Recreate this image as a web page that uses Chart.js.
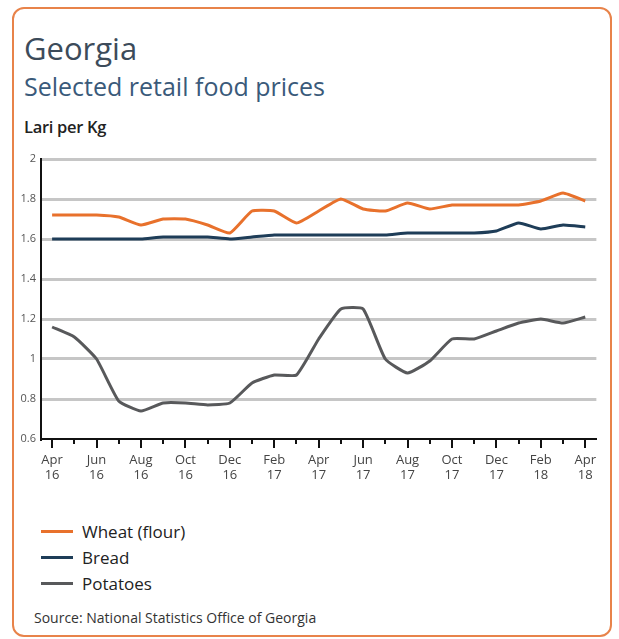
<!DOCTYPE html>
<html>
<head>
  <meta charset="UTF-8">
  <title>Georgia - Selected retail food prices</title>
  <script src="https://cdn.jsdelivr.net/npm/chart.js"></script>
  <style>
    body {
      margin: 0;
      background: #fff;
      font-family: "Open Sans", sans-serif;
    }
    #card {
      position: absolute;
      left: 12px;
      top: 7px;
      width: 596px;
      height: 626px;
      border: 2px solid #e8834a;
      border-radius: 12px;
    }
    #title {
      position: absolute;
      left: 24px;
      top: 27px;
      font-size: 31px;
      color: #3c4b5a;
    }
    #subtitle {
      position: absolute;
      left: 24px;
      top: 69px;
      font-size: 25px;
      color: #3a5a7a;
    }
    #unit {
      position: absolute;
      left: 24px;
      top: 115px;
      font-size: 16.5px;
      font-weight: 600;
      letter-spacing: -0.3px;
      color: #222;
    }
    #chartBox {
      position: absolute;
      left: 14px;
      top: 145px;
    }
    #legend {
      position: absolute;
      left: 41px;
      top: 518px;
      font-size: 17px;
      color: #222;
    }
    .item {
      height: 26px;
      display: flex;
      align-items: center;
    }
    .swatch {
      width: 32px;
      height: 3px;
      margin-right: 9px;
    }
    #source {
      position: absolute;
      left: 34px;
      top: 608px;
      font-size: 14px;
      color: #333;
    }
  </style>
</head>
<body>
  <div id="card"></div>
  <div id="title">Georgia</div>
  <div id="subtitle">Selected retail food prices</div>
  <div id="unit">Lari per Kg</div>
  <div id="chartBox">
    <canvas id="foodChart" width="595" height="355"></canvas>
  </div>
  <div id="legend"></div>
  <div id="source">Source: National Statistics Office of Georgia</div>

  <script>
    const months = [
      'Apr 16', 'May 16', 'Jun 16', 'Jul 16', 'Aug 16', 'Sep 16', 'Oct 16', 'Nov 16', 'Dec 16',
      'Jan 17', 'Feb 17', 'Mar 17', 'Apr 17', 'May 17', 'Jun 17', 'Jul 17', 'Aug 17', 'Sep 17',
      'Oct 17', 'Nov 17', 'Dec 17', 'Jan 18', 'Feb 18', 'Mar 18', 'Apr 18'
    ];
    const wheat = [
      1.72, 1.72, 1.72, 1.71, 1.67, 1.70, 1.70, 1.67, 1.63,
      1.74, 1.74, 1.68, 1.74, 1.80, 1.75, 1.74, 1.78, 1.75,
      1.77, 1.77, 1.77, 1.77, 1.79, 1.83, 1.79
    ];
    const bread = [
      1.60, 1.60, 1.60, 1.60, 1.60, 1.61, 1.61, 1.61, 1.60,
      1.61, 1.62, 1.62, 1.62, 1.62, 1.62, 1.62, 1.63, 1.63,
      1.63, 1.63, 1.64, 1.68, 1.65, 1.67, 1.66
    ];
    const potatoes = [
      1.16, 1.11, 1.00, 0.79, 0.74, 0.78, 0.78, 0.77, 0.78,
      0.88, 0.92, 0.92, 1.10, 1.25, 1.25, 1.00, 0.93, 0.99,
      1.10, 1.10, 1.14, 1.18, 1.20, 1.18, 1.21
    ];
    const yTicks = ['0.6', '0.8', '1', '1.2', '1.4', '1.6', '1.8', '2'];

    const series = [
      { label: 'Wheat (flour)', data: wheat, color: '#e8712c' },
      { label: 'Bread', data: bread, color: '#1e3d58' },
      { label: 'Potatoes', data: potatoes, color: '#58595b' }
    ];

    // month ticks under the axis: long every two months, short between
    const monthTicks = {
      id: 'monthTicks',
      afterDraw(chart) {
        const x = chart.scales.x;
        const ctx = chart.ctx;
        const bottom = chart.chartArea.bottom;
        ctx.save();
        ctx.strokeStyle = '#111';
        ctx.lineWidth = 2;
        for (let i = 0; i < months.length; i++) {
          const px = Math.round(x.getPixelForTick(i));
          const len = i % 2 === 0 ? 9 : 5;
          ctx.beginPath();
          ctx.moveTo(px, bottom);
          ctx.lineTo(px, bottom + len);
          ctx.stroke();
        }
        ctx.restore();
      }
    };

    new Chart(document.getElementById('foodChart'), {
      type: 'line',
      data: {
        labels: months,
        datasets: series.map(s => ({
          label: s.label,
          data: s.data,
          borderColor: s.color,
          backgroundColor: s.color,
          borderWidth: 3,
          pointRadius: 0,
          tension: 0.15,
          fill: false
        }))
      },
      options: {
        responsive: false,
        animation: false,
        layout: { padding: { top: 14, right: 0, left: 0, bottom: 0 } },
        plugins: {
          legend: { display: false },
          tooltip: { enabled: false }
        },
        scales: {
          x: {
            offset: true,
            grid: { display: false, drawTicks: false },
            border: { display: true, color: '#111', width: 2 },
            afterFit: s => { s.height = 61; },
            ticks: {
              autoSkip: false,
              maxRotation: 0,
              padding: 13,
              color: '#444',
              font: { family: 'Open Sans', size: 13 },
              callback: (v, i) => i % 2 === 0 ? months[i].split(' ') : ''
            }
          },
          y: {
            min: 0.6,
            max: 2,
            afterFit: s => { s.width = 27; },
            grid: {
              drawTicks: false,
              lineWidth: 3,
              color: ctx => ctx.index === 0 ? 'rgba(0,0,0,0)' : '#c6c6c6'
            },
            border: { display: true, color: '#111', width: 2 },
            ticks: {
              stepSize: 0.2,
              padding: 5,
              color: '#555',
              font: { family: 'Open Sans', size: 11 },
              callback: (v, i) => yTicks[i]
            }
          }
        }
      },
      plugins: [monthTicks]
    });

    const legend = document.getElementById('legend');
    series.forEach(s => {
      const item = document.createElement('div');
      item.className = 'item';
      item.innerHTML = '<span class="swatch" style="background:' + s.color + '"></span>' + s.label;
      legend.appendChild(item);
    });
  </script>
</body>
</html>
